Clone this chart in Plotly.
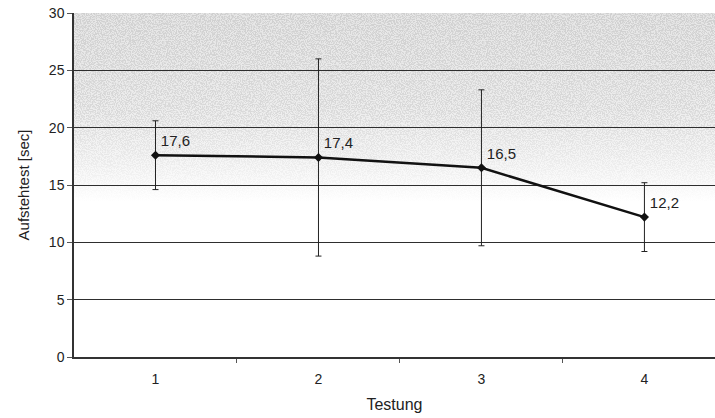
import base64
import plotly.graph_objects as go

# Mean standing-up test time per test session, with standard deviation
testung = [1, 2, 3, 4]
mittelwert = [17.6, 17.4, 16.5, 12.2]
standardabweichung = [3.0, 8.6, 6.8, 3.0]
labels = [f"{v:.1f}".replace(".", ",") for v in mittelwert]
y_ticks = [0, 5, 10, 15, 20, 25, 30]

# Speckled grey shading that fades out towards the middle of the plot area
svg = """<svg xmlns='http://www.w3.org/2000/svg' width='641' height='344' viewBox='0 0 641 344' preserveAspectRatio='none'>
<defs>
<linearGradient id='g' x1='0' y1='0' x2='0' y2='1'>
<stop offset='0' stop-color='#e6e6e6'/>
<stop offset='0.25' stop-color='#ececec'/>
<stop offset='0.42' stop-color='#f5f5f5'/>
<stop offset='0.55' stop-color='#ffffff'/>
</linearGradient>
<linearGradient id='m' x1='0' y1='0' x2='0' y2='1'>
<stop offset='0' stop-color='white' stop-opacity='1'/>
<stop offset='0.28' stop-color='white' stop-opacity='0.75'/>
<stop offset='0.55' stop-color='white' stop-opacity='0'/>
</linearGradient>
<mask id='mk'><rect width='641' height='344' fill='url(#m)'/></mask>
<filter id='n' x='0' y='0' width='100%' height='100%'>
<feTurbulence type='fractalNoise' baseFrequency='0.8' numOctaves='2' seed='7'/>
<feColorMatrix type='matrix' values='0 0 0 0 0.55  0 0 0 0 0.55  0 0 0 0 0.55  7 0 0 0 -3.0'/>
</filter>
</defs>
<rect width='641' height='344' fill='url(#g)'/>
<rect width='641' height='344' filter='url(#n)' mask='url(#mk)' opacity='0.65'/>
</svg>"""
bg_src = "data:image/svg+xml;base64," + base64.b64encode(svg.encode()).decode()

fig = go.Figure()
fig.add_trace(go.Scatter(
    x=testung,
    y=mittelwert,
    mode="lines+markers+text",
    line=dict(color="#111111", width=2.5),
    marker=dict(symbol="diamond", size=7, color="#111111"),
    error_y=dict(type="data", array=standardabweichung, visible=True,
                 color="#222222", thickness=1, width=3),
    text=labels,
    textposition="top right",
    textfont=dict(family="Liberation Sans, Arial, sans-serif", size=15, color="#222222"),
    cliponaxis=False,
    showlegend=False,
))

fig.update_layout(
    width=715,
    height=418,
    margin=dict(l=74, r=0, t=13, b=61),
    paper_bgcolor="white",
    plot_bgcolor="white",
    font=dict(family="Liberation Sans, Arial, sans-serif", size=14, color="#222222"),
    images=[dict(source=bg_src, xref="paper", yref="paper", x=0, y=1,
                 sizex=1, sizey=1, xanchor="left", yanchor="top",
                 sizing="stretch", layer="below")],
    xaxis=dict(
        range=[0.5, 4.433],
        tickmode="array",
        tickvals=testung,
        ticktext=[str(t) for t in testung],
        ticks="outside",
        ticklen=8,
        tickcolor="rgba(0,0,0,0)",
        tickfont=dict(size=14),
        showgrid=False,
        showline=True,
        linecolor="#333333",
        linewidth=1.5,
        zeroline=False,
        title=dict(text="Testung", font=dict(size=16), standoff=13),
        minor=dict(tickmode="array", tickvals=[1.5, 2.5, 3.5], ticks="outside",
                   ticklen=4, tickcolor="#555555", showgrid=False),
    ),
    yaxis=dict(
        range=[0, 30],
        tickmode="array",
        tickvals=y_ticks,
        ticks="outside",
        ticklen=5,
        tickcolor="#555555",
        tickfont=dict(size=14),
        showgrid=True,
        gridcolor="#2e2e2e",
        gridwidth=1.4,
        showline=True,
        linecolor="#333333",
        linewidth=1.5,
        zeroline=False,
        title=dict(text="Aufstehtest [sec]", font=dict(size=15), standoff=16),
    ),
)

fig.write_html("out.html")
